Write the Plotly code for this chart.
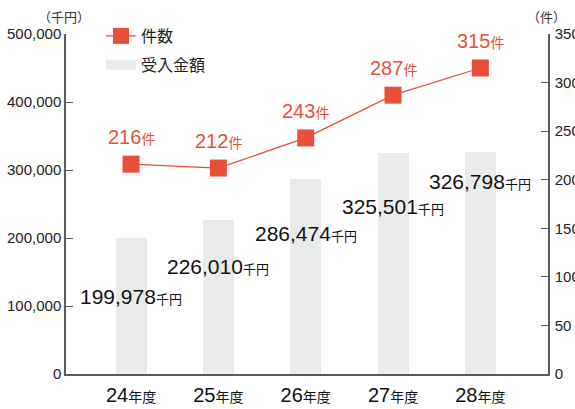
import plotly.graph_objects as go

years = ["24", "25", "26", "27", "28"]
amounts = [199978, 226010, 286474, 325501, 326798]   # 受入金額 (千円)
counts = [216, 212, 243, 287, 315]                   # 件数
amount_ticks = [0, 100000, 200000, 300000, 400000, 500000]
count_ticks = [0, 50, 100, 150, 200, 250, 300, 350]

# label placement (style only)
amount_label_y = [114700, 158800, 207300, 245600, 282400]

RED = "#E8503A"
GRAY = "#E9EBEA"
AX = "#5a5a5a"
LAT = "Liberation Sans, Arial, Noto Sans CJK JP"
JP = "Noto Sans CJK JP"

# plot area in pixels (for converting paper coords)
L, R, T, B = 66, 548, 34, 374
def px(x): return (x - L) / (R - L)
def py(y): return (B - y) / (B - T)

idx = list(range(len(years)))

fig = go.Figure()
fig.add_trace(go.Bar(
    x=idx, y=amounts, width=0.355, marker=dict(color=GRAY, line=dict(width=0)),
    yaxis="y", showlegend=False, hoverinfo="skip"))
fig.add_trace(go.Scatter(
    x=idx, y=counts, yaxis="y2", mode="lines+markers", name="件数", legendgroup="a",
    line=dict(color=RED, width=1.3),
    marker=dict(symbol="square", size=17, color=RED), hoverinfo="skip"))
# legend-only entry for bars (wide rectangle swatch)
fig.add_trace(go.Scatter(
    x=[None], y=[None], mode="lines", name="受入金額", legendgroup="b",
    line=dict(color=GRAY, width=18), hoverinfo="skip"))

ann = []
for i, v in enumerate(amounts):
    ann.append(dict(
        x=i, y=amount_label_y[i], xref="x", yref="y", showarrow=False,
        text=f"{v:,}<span style='font-size:13px;font-family:{JP}'>千円</span>",
        font=dict(size=21, color="#111", family=LAT), xanchor="center", yanchor="middle"))
for i, c in enumerate(counts):
    ann.append(dict(
        x=i, y=c, xref="x", yref="y2", showarrow=False, yshift=27,
        text=f"{c}<span style='font-size:14px;font-family:{JP}'>件</span>",
        font=dict(size=20, color=RED, family=LAT), xanchor="center", yanchor="middle"))
ann.append(dict(x=px(64), y=py(17), xref="paper", yref="paper", showarrow=False,
                text="（千円）", font=dict(size=13, color="#333", family=JP),
                xanchor="center", yanchor="middle"))
ann.append(dict(x=px(546), y=py(17), xref="paper", yref="paper", showarrow=False,
                text="（件）", font=dict(size=13, color="#333", family=JP),
                xanchor="center", yanchor="middle"))

ticktext = [f"{y}<span style='font-size:14px;font-family:{JP}'>年度</span>" for y in years]

fig.update_layout(
    width=575, height=409, margin=dict(l=L, r=575 - R, t=T, b=409 - B, autoexpand=False),
    paper_bgcolor="white", plot_bgcolor="white",
    font=dict(family=LAT, color="#222"),
    xaxis=dict(range=[-0.745, 4.775], tickmode="array", tickvals=idx, ticktext=ticktext,
               tickfont=dict(size=20, color="#111", family=LAT), showgrid=False, zeroline=False,
               showline=True, linecolor=AX, linewidth=1.5, ticks="", ticklabelstandoff=2,
               automargin=False),
    yaxis=dict(range=[0, 500000], tickmode="array", tickvals=amount_ticks,
               ticktext=[f"{t:,}" for t in amount_ticks], tickfont=dict(size=15, color="#222"),
               showgrid=False, zeroline=False, showline=True, linecolor=AX, linewidth=1.5,
               ticks="inside", ticklen=7, tickcolor=AX, tickwidth=1.2, ticklabelstandoff=0,
               automargin=False),
    yaxis2=dict(range=[0, 350], overlaying="y", side="right", tickmode="array",
                tickvals=count_ticks, tickfont=dict(size=15, color="#222"),
                showgrid=False, zeroline=False, showline=True, linecolor=AX, linewidth=1.5,
                ticks="inside", ticklen=7, tickcolor=AX, tickwidth=1.2, ticklabelstandoff=2,
                automargin=False),
    legend=dict(x=px(101), y=py(19), xanchor="left", yanchor="top", bgcolor="rgba(0,0,0,0)",
                font=dict(size=16, family=JP, color="#222"), itemwidth=30, tracegroupgap=5),
    annotations=ann, bargap=0,
)
fig.write_html("out.html")
